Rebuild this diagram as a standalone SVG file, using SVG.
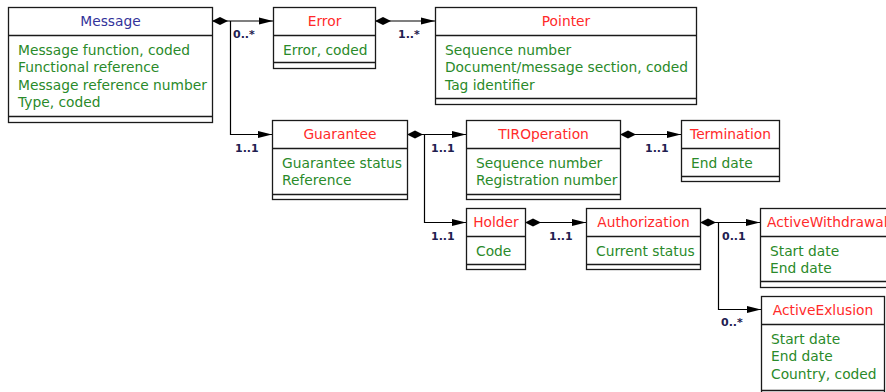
<svg xmlns="http://www.w3.org/2000/svg" width="886" height="392" viewBox="0 0 886 392">
<style>
.box{fill:#fff;stroke:#1a1a1a;stroke-width:1.3}
.sep{stroke:#1a1a1a;stroke-width:1.3;fill:none}
text{font-family:"DejaVu Sans","Liberation Sans",sans-serif;font-size:13.8px}
.hd{fill:#ff2a2a;text-anchor:middle}
.hdb{fill:#33339a;text-anchor:middle}
.at{fill:#2a8a2a}
.lb{font-size:11px;font-weight:bold;fill:#1f2050}
.cn{fill:none;stroke:#000;stroke-width:1.2}
</style>
<defs>
<marker id="dia" markerUnits="userSpaceOnUse" markerWidth="18" markerHeight="10" refX="0" refY="5" orient="auto" viewBox="0 0 18 10">
<path d="M0,5 L8,1 L16,5 L8,9 Z" fill="#000"/>
</marker>
<marker id="arr" markerUnits="userSpaceOnUse" markerWidth="16" markerHeight="10" refX="14" refY="5" orient="auto" viewBox="0 0 16 10">
<path d="M0,1.5 L14,5 L0,8.5 Z" fill="#000"/>
</marker>
</defs>

<g id="connectors">
<path class="cn" d="M212,21 H273" marker-start="url(#dia)" marker-end="url(#arr)"/>
<path class="cn" d="M230.5,21 V134.5 H272" marker-end="url(#arr)"/>
<path class="cn" d="M375,21 H435" marker-start="url(#dia)" marker-end="url(#arr)"/>
<path class="cn" d="M407,134.5 H466" marker-start="url(#dia)" marker-end="url(#arr)"/>
<path class="cn" d="M424.5,134.5 V222.5 H466" marker-end="url(#arr)"/>
<path class="cn" d="M620,134.5 H681" marker-start="url(#dia)" marker-end="url(#arr)"/>
<path class="cn" d="M525,222.5 H586" marker-start="url(#dia)" marker-end="url(#arr)"/>
<path class="cn" d="M700,222.5 H760" marker-start="url(#dia)" marker-end="url(#arr)"/>
<path class="cn" d="M718.5,222.5 V309.5 H761" marker-end="url(#arr)"/>
<text class="lb" x="233" y="38">0..*</text>
<text class="lb" x="398" y="38">1..*</text>
<text class="lb" x="235" y="152">1..1</text>
<text class="lb" x="431" y="152">1..1</text>
<text class="lb" x="645" y="152">1..1</text>
<text class="lb" x="431" y="240">1..1</text>
<text class="lb" x="549" y="240">1..1</text>
<text class="lb" x="722" y="240">0..1</text>
<text class="lb" x="721" y="326">0..*</text>
</g>

<g id="message">
<rect class="box" x="8.5" y="7.5" width="204" height="115"/>
<path class="sep" d="M8.5,35.5 H212.5 M8.5,116.5 H212.5"/>
<text class="hdb" x="110.5" y="26">Message</text>
<text class="at" x="18" y="55">Message function, coded</text>
<text class="at" x="18" y="72.3">Functional reference</text>
<text class="at" x="18" y="89.6">Message reference number</text>
<text class="at" x="18" y="107">Type, coded</text>
</g>

<g id="error">
<rect class="box" x="273.5" y="7.5" width="102" height="61"/>
<path class="sep" d="M273.5,35.5 H375.5 M273.5,62.5 H375.5"/>
<text class="hd" x="324.5" y="26">Error</text>
<text class="at" x="283" y="55">Error, coded</text>
</g>

<g id="pointer">
<rect class="box" x="435.5" y="7.5" width="261" height="97"/>
<path class="sep" d="M435.5,35.5 H696.5 M435.5,98.5 H696.5"/>
<text class="hd" x="566" y="26">Pointer</text>
<text class="at" x="445" y="55">Sequence number</text>
<text class="at" x="445" y="72.3">Document/message section, coded</text>
<text class="at" x="445" y="89.6">Tag identifier</text>
</g>

<g id="guarantee">
<rect class="box" x="272.5" y="120.5" width="135" height="79"/>
<path class="sep" d="M272.5,148.5 H407.5 M272.5,194.5 H407.5"/>
<text class="hd" x="340" y="139">Guarantee</text>
<text class="at" x="282" y="168">Guarantee status</text>
<text class="at" x="282" y="185.3">Reference</text>
</g>

<g id="tiroperation">
<rect class="box" x="466.5" y="120.5" width="154" height="79"/>
<path class="sep" d="M466.5,148.5 H620.5 M466.5,194.5 H620.5"/>
<text class="hd" x="543.5" y="139">TIROperation</text>
<text class="at" x="476" y="168">Sequence number</text>
<text class="at" x="476" y="185.3">Registration number</text>
</g>

<g id="termination">
<rect class="box" x="681.5" y="120.5" width="98" height="61"/>
<path class="sep" d="M681.5,148.5 H779.5 M681.5,176.5 H779.5"/>
<text class="hd" x="730.5" y="139">Termination</text>
<text class="at" x="691" y="168">End date</text>
</g>

<g id="holder">
<rect class="box" x="466.5" y="208.5" width="59" height="61"/>
<path class="sep" d="M466.5,236.5 H525.5 M466.5,264.5 H525.5"/>
<text class="hd" x="496" y="227">Holder</text>
<text class="at" x="476" y="256">Code</text>
</g>

<g id="authorization">
<rect class="box" x="586.5" y="208.5" width="114" height="61"/>
<path class="sep" d="M586.5,236.5 H700.5 M586.5,264.5 H700.5"/>
<text class="hd" x="643.5" y="227">Authorization</text>
<text class="at" x="596" y="256">Current status</text>
</g>

<g id="activewithdrawal">
<rect class="box" x="760.5" y="208.5" width="140" height="79"/>
<path class="sep" d="M760.5,236.5 H900 M760.5,281.5 H900"/>
<text class="hd" x="767" y="227" style="text-anchor:start">ActiveWithdrawal</text>
<text class="at" x="770" y="256">Start date</text>
<text class="at" x="770" y="273.3">End date</text>
</g>

<g id="activeexlusion">
<rect class="box" x="761.5" y="296.5" width="123" height="100"/>
<path class="sep" d="M761.5,324.5 H884.5 M761.5,390.5 H884.5"/>
<text class="hd" x="823" y="315">ActiveExlusion</text>
<text class="at" x="771" y="344">Start date</text>
<text class="at" x="771" y="361.3">End date</text>
<text class="at" x="771" y="378.6">Country, coded</text>
</g>
</svg>
